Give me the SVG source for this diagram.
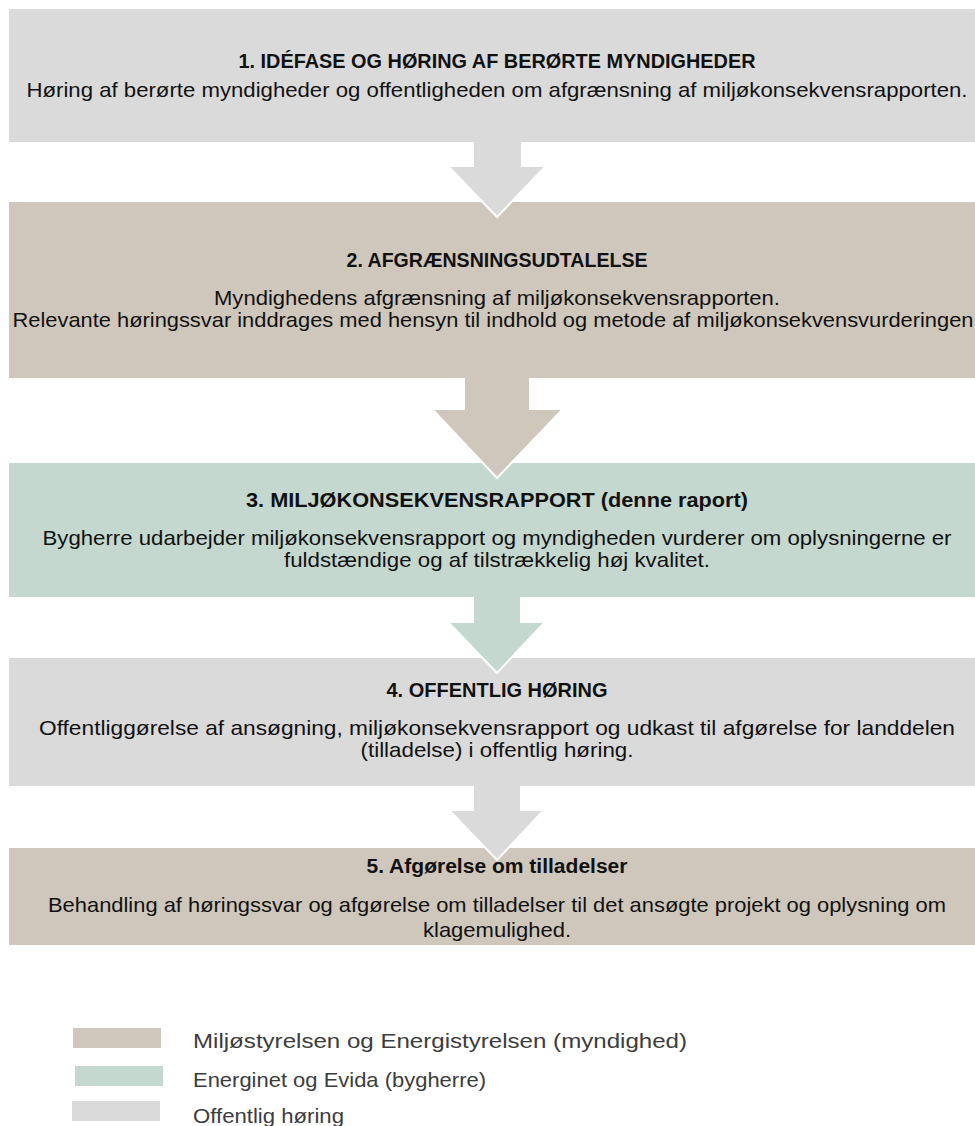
<svg xmlns="http://www.w3.org/2000/svg" width="975" height="1126" viewBox="0 0 975 1126">
  <style>
    .gray { fill: #dadada; }
    .taupe { fill: #cfc7bc; }
    .green { fill: #c5d8cf; }
    .title { font-family: "Liberation Sans", Arial, sans-serif; font-size: 20px; font-weight: bold; fill: #111; text-anchor: middle; }
    .body { font-family: "Liberation Sans", Arial, sans-serif; font-size: 21px; fill: #111; text-anchor: middle; }
    .legend { font-family: "Liberation Sans", Arial, sans-serif; font-size: 21px; fill: #3c3c3c; }
    .edge { fill: none; stroke: #ffffff; stroke-width: 2; stroke-linejoin: miter; }
  </style>

  <!-- process steps -->
  <g id="step1">
    <rect class="gray" x="9" y="9" width="966" height="133"/>
    <text class="title" x="497" y="68" textLength="517" lengthAdjust="spacingAndGlyphs">1. IDÉFASE OG HØRING AF BERØRTE MYNDIGHEDER</text>
    <text class="body" x="497" y="97" textLength="941" lengthAdjust="spacingAndGlyphs">Høring af berørte myndigheder og offentligheden om afgrænsning af miljøkonsekvensrapporten.</text>
  </g>

  <g id="step2">
    <rect class="taupe" x="9" y="202" width="966" height="176"/>
    <text class="title" x="497" y="267" textLength="301" lengthAdjust="spacingAndGlyphs">2. AFGRÆNSNINGSUDTALELSE</text>
    <text class="body" x="497" y="305" textLength="566" lengthAdjust="spacingAndGlyphs">Myndighedens afgrænsning af miljøkonsekvensrapporten.</text>
    <text class="body" x="493" y="327" textLength="961" lengthAdjust="spacingAndGlyphs">Relevante høringssvar inddrages med hensyn til indhold og metode af miljøkonsekvensvurderingen</text>
  </g>

  <g id="step3">
    <rect class="green" x="9" y="463" width="966" height="134"/>
    <text class="title" x="497" y="507" textLength="502" lengthAdjust="spacingAndGlyphs">3. MILJØKONSEKVENSRAPPORT (denne raport)</text>
    <text class="body" x="497" y="545" textLength="909" lengthAdjust="spacingAndGlyphs">Bygherre udarbejder miljøkonsekvensrapport og myndigheden vurderer om oplysningerne er</text>
    <text class="body" x="497" y="567" textLength="426" lengthAdjust="spacingAndGlyphs">fuldstændige og af tilstrækkelig høj kvalitet.</text>
  </g>

  <g id="step4">
    <rect class="gray" x="9" y="658" width="966" height="128"/>
    <text class="title" x="497" y="697" textLength="221" lengthAdjust="spacingAndGlyphs">4. OFFENTLIG HØRING</text>
    <text class="body" x="497" y="735" textLength="916" lengthAdjust="spacingAndGlyphs">Offentliggørelse af ansøgning, miljøkonsekvensrapport og udkast til afgørelse for landdelen</text>
    <text class="body" x="497" y="757" textLength="273" lengthAdjust="spacingAndGlyphs">(tilladelse) i offentlig høring.</text>
  </g>

  <g id="step5">
    <rect class="taupe" x="9" y="848" width="966" height="97"/>
    <text class="title" x="497" y="873" textLength="261" lengthAdjust="spacingAndGlyphs">5. Afgørelse om tilladelser</text>
    <text class="body" x="497" y="912" textLength="898" lengthAdjust="spacingAndGlyphs">Behandling af høringssvar og afgørelse om tilladelser til det ansøgte projekt og oplysning om</text>
    <text class="body" x="497" y="937" textLength="148" lengthAdjust="spacingAndGlyphs">klagemulighed.</text>
  </g>

  <!-- block arrows between steps -->
  <g id="connectors">
    <path class="gray" d="M473,142 V166 H448 L497,217 L546,166 H522 V142 Z"/>
    <path class="edge" d="M473,142 V166 H448 L497,217 L546,166 H522 V142"/>

    <path class="taupe" d="M464,378 V409 H432 L497,478 L563,409 H530 V378 Z"/>
    <path class="edge" d="M464,378 V409 H432 L497,478 L563,409 H530 V378"/>

    <path class="green" d="M473,597 V622 H448 L497,673 L545,622 H521 V597 Z"/>
    <path class="edge" d="M473,597 V622 H448 L497,673 L545,622 H521 V597"/>

    <path class="gray" d="M473,786 V810 H449 L497,860 L544,810 H521 V786 Z"/>
    <path class="edge" d="M473,786 V810 H449 L497,860 L544,810 H521 V786"/>
  </g>

  <!-- legend -->
  <g id="legend">
    <rect class="taupe" x="73" y="1028" width="88" height="20"/>
    <text class="legend" x="193" y="1048" textLength="494" lengthAdjust="spacingAndGlyphs">Miljøstyrelsen og Energistyrelsen (myndighed)</text>
    <rect class="green" x="75" y="1066" width="88" height="20"/>
    <text class="legend" x="193" y="1087" textLength="293" lengthAdjust="spacingAndGlyphs">Energinet og Evida (bygherre)</text>
    <rect class="gray" x="72" y="1101" width="88" height="20"/>
    <text class="legend" x="193" y="1123" textLength="151" lengthAdjust="spacingAndGlyphs">Offentlig høring</text>
  </g>
</svg>
